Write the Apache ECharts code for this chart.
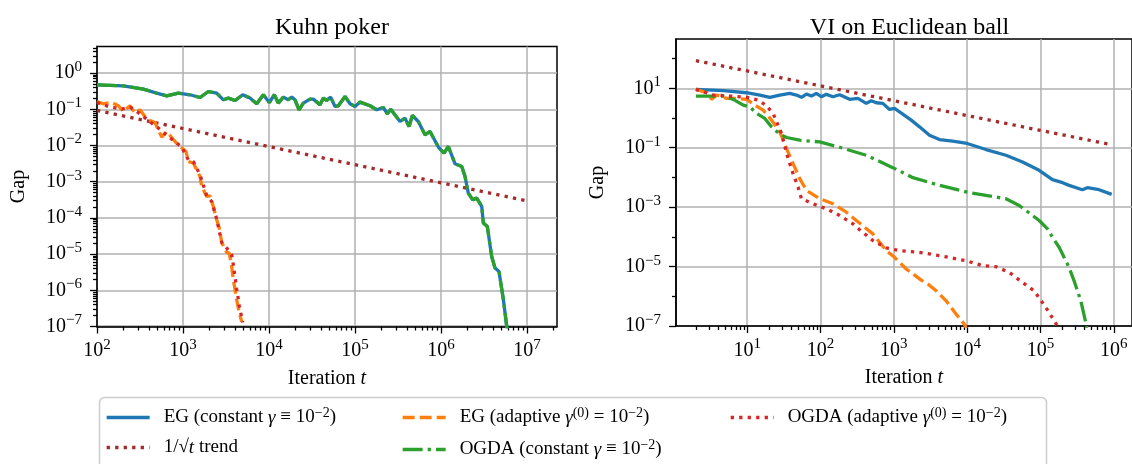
<!DOCTYPE html>
<html>
<head>
<meta charset="utf-8">
<script src="https://cdn.jsdelivr.net/npm/echarts@6/dist/echarts.min.js"></script>
<style>
  html, body { margin: 0; padding: 0; background: #fff; }
  #chart { width: 1132px; height: 464px; }
</style>
</head>
<body>
<div id="chart"></div>
<script>
// ---- data: [iteration t, gap] ----
const kuhnXTicks = [1e2, 1e3, 1e4, 1e5, 1e6, 1e7]
const kuhnYTicks = [1e-7, 1e-6, 1e-5, 1e-4, 1e-3, 1e-2, 1e-1, 1e0]
const ballXTicks = [1e1, 1e2, 1e3, 1e4, 1e5, 1e6]
const ballYTicks = [1e-7, 1e-5, 1e-3, 1e-1, 1e1]

const kuhnEgConstant = [[100, 0.475], [202, 0.446], [346, 0.361], [494, 0.28], [646, 0.236], [883, 0.28], [1205, 0.252], [1578, 0.212], [1968, 0.31], [2466, 0.28], [2944, 0.183], [3365, 0.204], [4027, 0.175], [4943, 0.252], [6012, 0.204], [7194, 0.142], [8590, 0.252], [10070, 0.154], [11530, 0.252], [12820, 0.148], [14660, 0.217], [16750, 0.183], [18370, 0.217], [20040, 0.183], [22340, 0.097], [25060, 0.148], [30000, 0.191], [32730, 0.191], [39170, 0.133], [42850, 0.204], [46770, 0.175], [52120, 0.217], [58480, 0.12], [63970, 0.125], [76560, 0.226], [87500, 0.142], [100000, 0.12], [114300, 0.158], [149300, 0.125], [178600, 0.097], [213300, 0.112], [237700, 0.0752], [260000, 0.101], [333400, 0.046], [381100, 0.0571], [424600, 0.0335], [464500, 0.0675], [544500, 0.046], [651600, 0.0198], [744700, 0.0244], [931100, 0.00904], [1084000, 0.00617], [1216000, 0.00938], [1455000, 0.00312], [1742000, 0.00263], [1901000, 0.00139], [2075000, 4.84e-4], [2339000, 3.16e-4], [2600000, 3.52e-4], [2972000, 2.07e-4], [3105000, 7.18e-5], [3451000, 5.78e-5], [3882000, 8.59e-6], [4246000, 4.1e-6], [4721000, 3.3e-6], [5309000, 5.47e-7], [5807000, 1e-7], [6100000, 5e-8]]
// OGDA with constant step lies on top of EG in Kuhn poker
const kuhnOgdaConstant = kuhnEgConstant
const kuhnTrend = [[1e2, 0.093], [1e3, 0.0295], [1e4, 0.0093], [1e5, 0.00295], [1e6, 9.3e-4], [1e7, 2.95e-4]]
const kuhnEgAdaptive = [[100, 0.164], [118, 0.142], [148, 0.154], [177, 0.125], [202, 0.0871], [242, 0.125], [277, 0.0785], [316, 0.0968], [378, 0.0536], [472, 0.0433], [565, 0.0171], [646, 0.0244], [807, 0.0129], [923, 0.00938], [1084, 0.00682], [1153, 0.00361], [1318, 0.00327], [1578, 0.00139], [1648, 7.36e-4], [1888, 3.9e-4], [2061, 4.07e-4], [2249, 2.07e-4], [2466, 8.87e-5], [2642, 5.22e-5], [2818, 2.09e-5], [3221, 1.11e-5], [3451, 1.07e-5], [3681, 4.54e-6], [3846, 1.95e-6], [4027, 1.03e-6], [4207, 5.47e-7], [4519, 2.34e-7], [4808, 1.37e-7]]
const kuhnOgdaAdaptive = [[100, 0.154], [136, 0.12], [194, 0.101], [242, 0.115], [316, 0.0752], [395, 0.0491], [516, 0.0303], [618, 0.021], [738, 0.015], [966, 0.00904], [1153, 0.00403], [1318, 0.00361], [1578, 0.00155], [1888, 4.07e-4], [2158, 2.84e-4], [2466, 9.27e-5], [2818, 2.09e-5], [3221, 1.47e-5], [3681, 9.57e-6], [3846, 5.06e-6], [4207, 1.08e-6], [4519, 3.73e-7], [4943, 1.29e-7]]

const ballEgConstant = [[2, 9.25], [4.71, 8.3], [9.82, 7.1], [14.9, 5.94], [20.4, 4.97], [27.9, 5.94], [38.1, 6.78], [47, 5.94], [55, 4.97], [64.3, 6.41], [75.2, 5.5], [87.9, 6.78], [102.8, 5.2], [120.2, 6.27], [147.9, 5.2], [182.4, 6.08], [249.5, 4.25], [323.6, 4.59], [420.7, 3.11], [492, 3.81], [576.8, 3.27], [707.9, 3.11], [873, 1.95], [1023, 2.11], [1324, 1.36], [1726, 0.849], [2239, 0.505], [3062, 0.264], [4188, 0.189], [6353, 0.166], [9977, 0.139], [18070, 0.0869], [33810, 0.0558], [56890, 0.0331], [95940, 0.0174], [145500, 0.00843], [189700, 0.007], [245500, 0.00541], [372400, 0.00387], [435500, 0.00452], [629500, 0.00387], [935400, 0.00269]]
const ballTrend = [[2, 85.5], [10, 38.3], [100, 12.1], [1000, 3.83], [10000, 1.21], [100000, 0.383], [820000, 0.135]]
const ballEgAdaptive = [[2, 9.25], [2.81, 7.1], [3.28, 4.25], [3.84, 5.94], [5.25, 4.59], [7.18, 4.59], [9.82, 4.25], [12.7, 2.73], [16.5, 1.85], [21.5, 0.849], [27.9, 0.342], [34.4, 0.094], [42.3, 0.0292], [52.1, 0.0091], [64.3, 0.00366], [97.5, 0.00192], [147.9, 0.0013], [224.9, 6.78e-4], [307.6, 3.56e-4], [517.6, 1.26e-4], [788.9, 3.44e-5], [1023, 2.05e-5], [1476, 8.3e-6], [2360, 3.52e-6], [2904, 2.58e-6], [3776, 1.53e-6], [5164, 7.05e-7], [7063, 2.51e-7], [9162, 1.15e-7], [9800, 8e-8]]
const ballOgdaConstant = [[2, 5.5], [4.71, 5.5], [6.46, 4.25], [8.83, 2.73], [10.9, 2.39], [13.4, 1.43], [17.4, 0.968], [21.5, 0.505], [27.9, 0.286], [34.4, 0.221], [52.1, 0.179], [97.5, 0.157], [182.4, 0.104], [420.7, 0.0558], [968.3, 0.0214], [1816, 0.00984], [4188, 0.00541], [9977, 0.00321], [18070, 0.00248], [33810, 0.00192], [51290, 0.00114], [77800, 5.25e-4], [95940, 3.55e-4], [124500, 1.86e-4], [145500, 9.77e-5], [179500, 4.47e-5], [245500, 9.33e-6], [287100, 3.31e-6], [354800, 7.08e-7], [414000, 1.32e-7], [440000, 5e-8]]
const ballOgdaAdaptive = [[2, 9.25], [3.44, 5.94], [5.82, 5.5], [9.82, 4.97], [14.1, 4.03], [17.9, 2.73], [22.6, 1.43], [29.4, 0.302], [36.1, 0.0432], [42.3, 0.0134], [49.4, 0.00474], [55, 0.00192], [79.1, 0.0013], [120.2, 8.83e-4], [182.4, 5.25e-4], [276.7, 2.75e-4], [341.2, 1.74e-4], [517.6, 7.5e-5], [788.9, 4.25e-5], [1197, 3.44e-5], [2239, 3.02e-5], [4188, 2.33e-5], [9661, 1.58e-5], [16260, 1.07e-5], [24720, 9.93e-6], [37500, 6.37e-6], [56890, 2.92e-6], [82040, 1.53e-6], [118300, 4.19e-7], [170200, 1.01e-7], [185000, 6e-8]]

const nameEgC = 'EG (constant γ ≡ 10^−2)'
const nameTrend = '1/√t trend'
const nameEgA = 'EG (adaptive γ^(0) = 10^−2)'
const nameOgC = 'OGDA (constant γ ≡ 10^−2)'
const nameOgA = 'OGDA (adaptive γ^(0) = 10^−2)'

// ---- styling ----
const serif = 'Liberation Serif'
const lineW = 3.3
const colors = {
  egC: '#1f77b4', trend: '#a52a2a', egA: '#ff7f0e', ogC: '#2ca02c', ogA: '#d62728'
}
const dashes = {
  egC: 'solid', trend: [3.3, 5.2], egA: [12, 5], ogC: [20, 5, 3.3, 5], ogA: [3.3, 5.2]
}

const axisRich = {
  b: { fontFamily: serif, fontSize: 20, color: '#000' },
  s: { fontFamily: serif, fontSize: 15, color: '#000', padding: [0, 0, 12, 0] }
}
const nameRich = {
  r: { fontFamily: serif, fontSize: 20, color: '#000' },
  i: { fontFamily: serif, fontSize: 20, fontStyle: 'italic', color: '#000' }
}
const legendRich = {
  t: { fontFamily: serif, fontSize: 19, color: '#000' },
  i: { fontFamily: serif, fontSize: 19, fontStyle: 'italic', color: '#000' },
  s: { fontFamily: serif, fontSize: 14, color: '#000', padding: [0, 0, 9, 0] }
}
const legendText = {}
legendText[nameEgC] = '{t|EG (constant }{i|γ}{t| ≡ 10}{s|−2}{t|)}'
legendText[nameTrend] = '{t|1/√}{i|t}{t| trend}'
legendText[nameEgA] = '{t|EG (adaptive }{i|γ}{s|(0)}{t| = 10}{s|−2}{t|)}'
legendText[nameOgC] = '{t|OGDA (constant }{i|γ}{t| ≡ 10}{s|−2}{t|)}'
legendText[nameOgA] = '{t|OGDA (adaptive }{i|γ}{s|(0)}{t| = 10}{s|−2}{t|)}'

function powLabel(v) {
  const e = Math.round(Math.log10(v))
  return '{b|10}{s|' + (e < 0 ? '\u2212' + (-e) : e) + '}'
}

// minor tick positions m * 10^e
function minorTicks(lo, hi, subs) {
  const out = []
  for (let e = lo; e <= hi; e++) {
    subs.forEach(m => out.push(m * Math.pow(10, e)))
  }
  return out
}
const subs = [2, 3, 4, 5, 6, 7, 8, 9]

const tickLine = { color: '#000', width: 1.3 }

function majorAxis(grid, pos, min, max, ticks, name, nameGap) {
  return {
    type: 'log', gridIndex: grid, position: pos, min: min, max: max,
    axisLine: { show: true, onZero: false, lineStyle: { color: '#000', width: 1.5 } },
    axisTick: { show: true, customValues: ticks, length: 7, lineStyle: tickLine },
    axisLabel: { show: true, customValues: ticks, formatter: powLabel, rich: axisRich, margin: pos === 'bottom' ? 11 : 15 },
    splitLine: { show: true, lineStyle: { color: '#b0b0b0', width: 1.5 } },
    minorTick: { show: false }, minorSplitLine: { show: false },
    name: name, nameLocation: 'middle', nameGap: nameGap,
    nameTextStyle: { fontFamily: serif, fontSize: 20, color: '#000', rich: nameRich }
  }
}
function minorAxis(grid, pos, min, max, ticks) {
  return {
    type: 'log', gridIndex: grid, position: pos, min: min, max: max,
    axisLine: { show: false, onZero: false },
    axisTick: { show: true, customValues: ticks, length: 4, lineStyle: tickLine },
    axisLabel: { show: false },
    splitLine: { show: false }
  }
}

const kuhnX = [100, 2.23e7]
const kuhnY = [1e-7, 5.43]
const ballX = [1.07, 1.77e6]
const ballY = [1e-7, 457]

function line(name, data, idx, key) {
  return {
    name: name, type: 'line', data: data,
    xAxisIndex: idx, yAxisIndex: idx,
    showSymbol: false, symbol: 'none', smooth: false, clip: true,
    lineStyle: { color: colors[key], width: lineW, type: dashes[key] },
    itemStyle: { color: colors[key] },
    emphasis: { disabled: true }
  }
}

function legendAt(name, left, top) {
  return {
    data: [name], left: left, top: top, padding: 0,
    itemWidth: 43, itemHeight: 14, selectedMode: false,
    itemStyle: { opacity: 0 },
    lineStyle: { width: lineW },
    formatter: n => legendText[n],
    textStyle: { rich: legendRich, padding: [0, 0, 0, 9] }
  }
}

const chart = echarts.init(document.getElementById('chart'))

const option = {
  animation: false,
  backgroundColor: '#fff',
  textStyle: { fontFamily: serif },
  title: [
    { text: 'Kuhn poker', left: 327, top: 11, textAlign: 'center',
      textStyle: { fontFamily: serif, fontSize: 24, fontWeight: 'normal', color: '#000' } },
    { text: 'VI on Euclidean ball', left: 904.5, top: 11, textAlign: 'center',
      textStyle: { fontFamily: serif, fontSize: 24, fontWeight: 'normal', color: '#000' } }
  ],
  grid: [
    { left: 97, top: 46.5, width: 460, height: 280, show: true, borderColor: '#000', borderWidth: 1.5, containLabel: false },
    { left: 676, top: 39, width: 457, height: 287, show: true, borderColor: '#000', borderWidth: 1.5, containLabel: false }
  ],
  xAxis: [
    majorAxis(0, 'bottom', kuhnX[0], kuhnX[1], kuhnXTicks, '{r|Iteration }{i|t}', 42),
    minorAxis(0, 'bottom', kuhnX[0], kuhnX[1], minorTicks(2, 7, subs)),
    majorAxis(1, 'bottom', ballX[0], ballX[1], ballXTicks, '{r|Iteration }{i|t}', 42),
    minorAxis(1, 'bottom', ballX[0], ballX[1], minorTicks(0, 6, subs))
  ],
  yAxis: [
    majorAxis(0, 'left', kuhnY[0], kuhnY[1], kuhnYTicks, 'Gap', 68),
    minorAxis(0, 'left', kuhnY[0], kuhnY[1], minorTicks(-7, 0, subs)),
    majorAxis(1, 'left', ballY[0], ballY[1], ballYTicks, 'Gap', 68),
    minorAxis(1, 'left', ballY[0], ballY[1], [1e-6, 1e-4, 1e-2, 1e0, 1e2])
  ],
  legend: [
    legendAt(nameEgC, 105, 406),
    legendAt(nameEgA, 401, 406),
    legendAt(nameOgA, 729, 406),
    legendAt(nameTrend, 105, 438),
    legendAt(nameOgC, 401, 438)
  ],
  graphic: [{
    type: 'rect', z: -1, silent: true,
    shape: { x: 99.5, y: 397.5, width: 947, height: 90, r: 5 },
    style: { fill: '#fff', stroke: '#cccccc', lineWidth: 1.5 }
  }],
  series: [
    line(nameEgC, kuhnEgConstant, 0, 'egC'),
    line(nameTrend, kuhnTrend, 0, 'trend'),
    line(nameEgA, kuhnEgAdaptive, 0, 'egA'),
    line(nameOgC, kuhnOgdaConstant, 0, 'ogC'),
    line(nameOgA, kuhnOgdaAdaptive, 0, 'ogA'),
    line(nameEgC, ballEgConstant, 2, 'egC'),
    line(nameTrend, ballTrend, 2, 'trend'),
    line(nameEgA, ballEgAdaptive, 2, 'egA'),
    line(nameOgC, ballOgdaConstant, 2, 'ogC'),
    line(nameOgA, ballOgdaAdaptive, 2, 'ogA')
  ]
}

chart.setOption(option)
</script>
</body>
</html>
